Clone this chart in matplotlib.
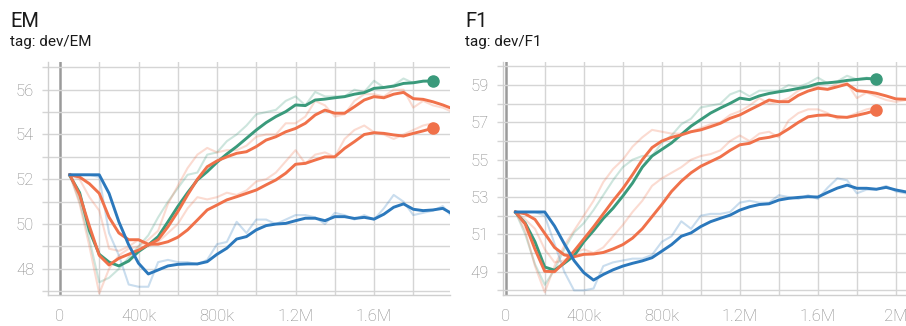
import matplotlib
matplotlib.use("Agg")
import matplotlib.pyplot as plt
from matplotlib.ticker import FixedLocator, FuncFormatter

plt.rcParams['font.family'] = ['Roboto', 'DejaVu Sans']

# ---------------- data ----------------
steps = [s * 50000 for s in range(1, 42)]  # 50k ... 2.05M

# EM panel
em_green = [52.16, 51.4, 49.7, 48.65, 48.3, 48.13, 48.35, 48.77, 49.07, 49.44,
            50.1, 50.78, 51.4, 51.97, 52.34, 52.76, 53.13, 53.46, 53.83, 54.2,
            54.53, 54.8, 55.02, 55.32, 55.29, 55.54, 55.58, 55.64, 55.69, 55.8,
            55.87, 56.06, 56.1, 56.16, 56.28, 56.31, 56.38, 56.39]
em_green_raw = [52.2, 51.0, 49.3, 47.4, 47.6, 48.0, 48.5, 49.0, 49.5, 50.3,
                51.0, 51.6, 52.2, 52.3, 53.1, 53.2, 53.7, 54.0, 54.4, 54.9,
                55.0, 55.1, 55.5, 55.7, 55.3, 55.9, 55.7, 55.7, 55.7, 56.0,
                55.9, 56.4, 56.1, 56.2, 56.5, 56.3, 56.4, 56.4]
em_orange_a = [52.2, 51.3, 49.9, 48.6, 48.17, 48.47, 48.65, 48.84, 49.07, 49.3,
               49.88, 50.55, 51.3, 52.0, 52.56, 52.82, 53.0, 53.16, 53.23, 53.46,
               53.75, 53.9, 54.12, 54.27, 54.5, 54.87, 55.09, 54.95, 54.95, 55.24,
               55.54, 55.69, 55.64, 55.8, 55.88, 55.6, 55.57, 55.46, 55.32, 55.15]
em_orange_a_raw = [52.2, 50.9, 49.0, 46.9, 48.0, 48.6, 48.9, 49.0, 49.3, 49.7,
                   50.9, 51.7, 52.5, 53.1, 53.4, 53.2, 53.3, 53.3, 53.5, 53.9,
                   54.0, 54.0, 54.5, 54.5, 54.8, 55.5, 55.3, 54.8, 54.9, 55.5,
                   55.8, 55.8, 55.7, 56.0, 56.0, 55.2, 55.5, 55.3, 55.2, 55.0]
em_orange_b = [52.2, 52.1, 51.8, 51.37, 50.3, 49.6, 49.3, 49.3, 49.1, 49.1,
               49.21, 49.41, 49.74, 50.18, 50.63, 50.85, 51.08, 51.22, 51.37, 51.52,
               51.75, 51.97, 52.27, 52.67, 52.71, 52.86, 53.0, 53.0, 53.38, 53.68,
               54.0, 54.08, 54.05, 53.98, 53.93, 54.05, 54.16, 54.28]
em_orange_b_raw = [52.2, 52.0, 51.2, 50.6, 48.9, 48.8, 49.0, 49.3, 49.0, 49.2,
                   49.6, 50.0, 50.7, 51.2, 51.1, 51.2, 51.4, 51.3, 51.5, 51.9,
                   52.0, 52.3, 52.8, 53.3, 52.7, 53.1, 53.2, 53.0, 53.8, 54.2,
                   54.4, 54.1, 54.0, 53.8, 54.0, 54.2, 54.4, 54.5]
em_blue = [52.2, 52.2, 52.2, 52.2, 51.37, 50.1, 49.07, 48.25, 47.77, 47.95,
           48.13, 48.2, 48.22, 48.22, 48.32, 48.65, 48.92, 49.33, 49.44, 49.74,
           49.93, 50.0, 50.03, 50.15, 50.26, 50.26, 50.15, 50.33, 50.33, 50.25,
           50.3, 50.22, 50.44, 50.75, 50.9, 50.66, 50.6, 50.63, 50.7, 50.45]
em_blue_raw = [52.2, 52.2, 52.2, 52.1, 49.6, 48.6, 47.3, 47.2, 47.2, 48.3,
               48.4, 48.3, 48.3, 48.2, 48.4, 49.1, 49.2, 50.1, 49.6, 50.2,
               50.2, 50.0, 50.2, 50.4, 50.4, 50.3, 50.0, 50.5, 50.4, 50.2,
               50.4, 50.2, 50.7, 51.3, 51.0, 50.4, 50.5, 50.6, 50.8, 50.3]

# F1 panel
f1_green = [52.18, 51.6, 50.6, 49.25, 49.08, 49.45, 49.85, 50.6, 51.2, 51.85,
            52.4, 53.05, 53.75, 54.6, 55.2, 55.55, 55.9, 56.35, 56.8, 57.15,
            57.5, 57.77, 58.02, 58.3, 58.22, 58.42, 58.55, 58.64, 58.72, 58.82,
            58.92, 59.08, 59.12, 59.17, 59.25, 59.3, 59.35, 59.33]
f1_green_raw = [52.2, 51.0, 49.4, 48.3, 49.1, 50.2, 51.1, 51.6, 52.3, 53.1,
                53.9, 54.6, 55.0, 55.2, 55.2, 55.9, 56.3, 56.9, 57.2, 57.8,
                57.9, 58.0, 58.5, 58.7, 58.4, 58.7, 58.7, 58.7, 59.0, 58.9,
                59.1, 59.4, 59.1, 59.2, 59.5, 59.3, 59.4, 59.3]
f1_orange_a = [52.2, 51.55, 50.2, 49.02, 49.0, 49.5, 50.1, 50.75, 51.4, 52.1,
               52.8, 53.45, 54.2, 55.0, 55.65, 56.0, 56.2, 56.33, 56.5, 56.6,
               56.77, 56.95, 57.22, 57.4, 57.67, 57.93, 58.2, 58.11, 58.11, 58.45,
               58.68, 58.83, 58.77, 58.91, 59.05, 58.7, 58.65, 58.56, 58.42, 58.26,
               58.24]
f1_orange_a_raw = [52.2, 51.2, 49.3, 47.9, 49.3, 50.4, 51.2, 52.0, 52.8, 53.8,
                   54.5, 55.0, 55.7, 56.2, 56.6, 56.5, 56.4, 56.4, 56.5, 56.7,
                   56.9, 57.0, 57.4, 57.6, 57.9, 58.3, 58.0, 58.1, 58.3, 58.7,
                   58.9, 58.9, 58.8, 59.1, 59.1, 58.3, 58.6, 58.4, 58.2, 58.1,
                   58.2]
f1_orange_b = [52.2, 52.1, 51.8, 51.05, 50.3, 49.9, 49.8, 49.93, 49.95, 50.03,
               50.22, 50.45, 50.8, 51.3, 51.95, 52.6, 53.3, 53.85, 54.3, 54.65,
               54.9, 55.15, 55.5, 55.8, 55.88, 56.12, 56.2, 56.33, 56.65, 57.0,
               57.3, 57.38, 57.4, 57.3, 57.27, 57.38, 57.5, 57.65]
f1_orange_b_raw = [52.2, 51.8, 51.3, 50.2, 49.5, 49.6, 50.0, 50.2, 50.0, 50.3,
                   50.9, 51.5, 52.2, 52.8, 53.6, 54.0, 54.3, 54.6, 55.0, 55.2,
                   55.3, 55.5, 56.0, 56.3, 56.0, 56.4, 56.5, 56.2, 57.1, 57.5,
                   57.7, 57.7, 57.5, 57.2, 57.3, 57.5, 57.7, 57.8]
f1_blue = [52.2, 52.2, 52.2, 52.2, 51.45, 50.5, 49.6, 48.95, 48.55, 48.85,
           49.1, 49.3, 49.45, 49.58, 49.75, 50.1, 50.45, 50.9, 51.08, 51.42,
           51.68, 51.86, 52.03, 52.3, 52.48, 52.6, 52.64, 52.84, 52.93, 52.98,
           53.02, 53.0, 53.25, 53.48, 53.64, 53.47, 53.47, 53.42, 53.52, 53.38,
           53.28]
f1_blue_raw = [52.2, 52.2, 52.2, 52.0, 50.5, 49.0, 48.0, 48.0, 48.1, 49.3,
               49.5, 49.6, 49.7, 49.7, 49.9, 50.6, 50.9, 51.7, 51.3, 52.0,
               52.1, 52.1, 52.2, 52.7, 52.8, 52.7, 52.7, 53.1, 53.0, 52.9,
               53.1, 52.9, 53.5, 54.0, 53.9, 53.2, 53.4, 53.4, 53.6, 53.3,
               53.2]

x_tick_vals = [0, 400000, 800000, 1200000, 1600000, 2000000]
x_tick_labels = ["0", "400k", "800k", "1.2M", "1.6M", "2M"]

GREEN = "#3a9a7b"
ORANGE = "#f0714a"
BLUE = "#2b78bc"

panels = [
    dict(title="EM", tag="tag: dev/EM", rect=[0.053, 0.095, 0.4437, 0.715],
         xlim=(-61000, 1987000), ylim=(46.83, 57.24),
         yticks=[48, 50, 52, 54, 56], yminor=[47, 49, 51, 53, 55, 57],
         series=[(em_green, em_green_raw, GREEN, True),
                 (em_orange_a, em_orange_a_raw, ORANGE, False),
                 (em_orange_b, em_orange_b_raw, ORANGE, True),
                 (em_blue, em_blue_raw, BLUE, False)],
         tx=10),
    dict(title="F1", tag="tag: dev/F1", rect=[0.5552, 0.095, 0.4448, 0.715],
         xlim=(-14000, 2052000), ylim=(47.75, 60.24),
         yticks=[49, 51, 53, 55, 57, 59], yminor=[48, 50, 52, 54, 56, 58, 60],
         series=[(f1_green, f1_green_raw, GREEN, True),
                 (f1_orange_a, f1_orange_a_raw, ORANGE, False),
                 (f1_orange_b, f1_orange_b_raw, ORANGE, True),
                 (f1_blue, f1_blue_raw, BLUE, False)],
         tx=465),
]

fig = plt.figure(figsize=(9.06, 3.26), dpi=100)
W, H = 906, 326

def fmt(v, pos):
    for tv, tl in zip(x_tick_vals, x_tick_labels):
        if abs(v - tv) < 1:
            return tl
    return ""

for p in panels:
    ax = fig.add_axes(p["rect"])
    ax.set_xlim(*p["xlim"])
    ax.set_ylim(*p["ylim"])
    # grid lines
    for gx in range(0, 2200001, 200000):
        if gx == 0:
            ax.axvline(gx, color="#9a9a9a", lw=1.8, zorder=1)
        else:
            ax.axvline(gx, color="#d5d5d5", lw=1.0, zorder=1)
    for gy in p["yticks"] + p["yminor"]:
        ax.axhline(gy, color="#d5d5d5", lw=1.0, zorder=1)
    # raw lines
    for sm, raw, col, dot in p["series"]:
        ax.plot(steps[:len(raw)], raw, color=col, lw=1.5, alpha=0.25, zorder=2,
                solid_joinstyle="round")
    for sm, raw, col, dot in p["series"]:
        ax.plot(steps[:len(sm)], sm, color=col, lw=2.1, zorder=3,
                solid_joinstyle="round")
        if dot:
            ax.plot(steps[len(sm) - 1], sm[-1], 'o', color=col, ms=8, zorder=4)
    ax.xaxis.set_major_locator(FixedLocator(x_tick_vals))
    ax.xaxis.set_major_formatter(FuncFormatter(fmt))
    ax.set_yticks(p["yticks"])
    ax.set_yticklabels([str(v) for v in p["yticks"]])
    ax.set_yticks(p["yminor"], minor=True)
    ax.tick_params(axis="y", which="both", length=4, color="#d5d5d5", width=1.0,
                   pad=6, labelsize=12, labelcolor="#858585")
    ax.tick_params(axis="x", length=0, pad=10, labelsize=12, labelcolor="#858585")
    for lbl in ax.get_xticklabels() + ax.get_yticklabels():
        lbl.set_fontweight("light")
    for s in ["top", "right"]:
        ax.spines[s].set_visible(False)
    for s in ["left", "bottom"]:
        ax.spines[s].set_color("#cfcfcf")
        ax.spines[s].set_linewidth(1.0)
    fig.text(p["tx"] / W, 1 - 27 / H, p["title"], fontsize=14.5, color="#1a1a1a")
    fig.text(p["tx"] / W, 1 - 46 / H, p["tag"], fontsize=11, color="#1a1a1a")

fig.savefig("out.png", dpi=100)
